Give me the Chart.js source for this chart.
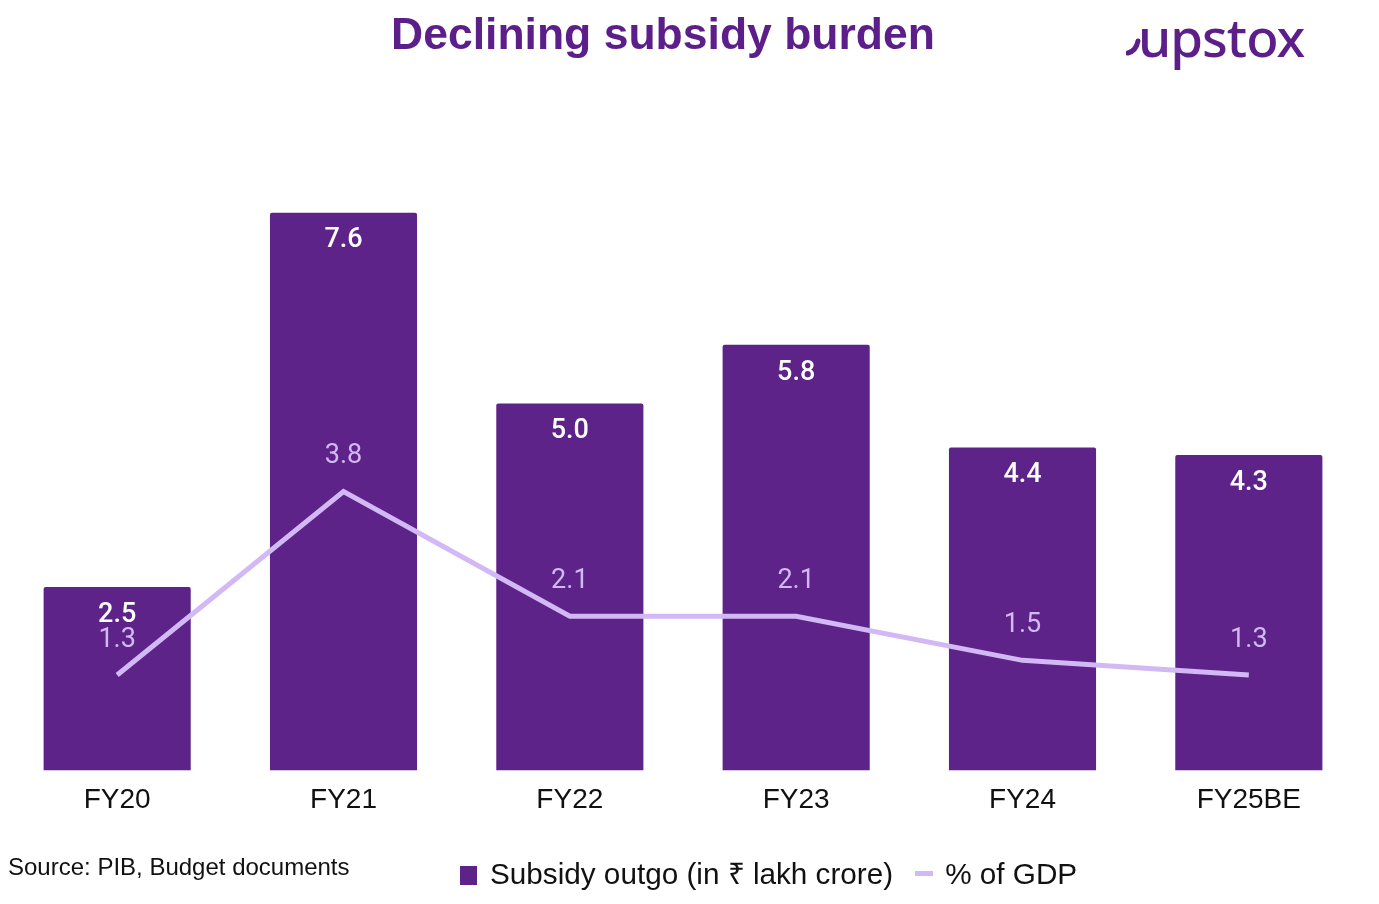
<!DOCTYPE html>
<html>
<head>
<meta charset="utf-8">
<script src="https://cdn.jsdelivr.net/npm/chart.js@4"></script>
<style>
  body { margin: 0; background: #fff; width: 1379px; height: 904px; position: relative; overflow: hidden; }
  #title { position: absolute; top: 9px; left: 363px; width: 600px; text-align: center; font: bold 44.5px "Liberation Sans", Arial, sans-serif; color: #5c1f8a; }
  #logo { position: absolute; top: 0px; left: 1126px; font: 500 53px "Noto Sans", sans-serif; color: #5c1f8a; letter-spacing: -1px; }
  #logo svg { vertical-align: baseline; margin-right: -4px; }
  #wrap { position: absolute; left: 0; top: 0; width: 1379px; height: 904px; }
  #source { position: absolute; left: 8px; top: 853px; font: 24px "Liberation Sans", Arial, sans-serif; color: #111; }
  #legend { position: absolute; left: 460px; top: 852px; font: 29.7px "Liberation Sans", Arial, sans-serif; color: #111; }
  #legend span.box { display: inline-block; width: 17px; height: 19px; background: #5e2388; margin-right: 13px; vertical-align: -1px; }
  #legend span.dash { display: inline-block; width: 18px; height: 5px; background: #d2b8f5; margin: 0 12px 0 22px; vertical-align: 8px; }
</style>
</head>
<body>
<div id="wrap"><canvas id="subsidyChart"></canvas></div>
<div id="title">Declining subsidy burden</div>
<div id="logo"><svg width="16" height="20" viewBox="0 0 16 20"><path d="M2 16 Q10 14 12 4" stroke="#5c1f8a" stroke-width="5" fill="none" stroke-linecap="round"/></svg>upstox</div>
<div id="source">Source: PIB, Budget documents</div>
<div id="legend"><span class="box"></span>Subsidy outgo (in ₹ lakh crore)<span class="dash"></span>% of GDP</div>
<script>
  var years = ["FY20", "FY21", "FY22", "FY23", "FY24", "FY25BE"];
  var subsidyOutgo = [2.5, 7.6, 5.0, 5.8, 4.4, 4.3];
  var gdpShare = [1.3, 3.8, 2.1, 2.1, 1.5, 1.3];

  // value labels: bars inside top, line above point
  var valueLabels = {
    id: 'valueLabels',
    afterDatasetsDraw: function(chart) {
      var ctx = chart.ctx;
      ctx.save();
      ctx.textAlign = 'center';
      ctx.textBaseline = 'middle';
      ctx.font = '500 27px Roboto, sans-serif';
      chart.getDatasetMeta(1).data.forEach(function(bar, i) {
        ctx.fillStyle = '#ffffff';
        ctx.fillText(subsidyOutgo[i].toFixed(1), bar.x, bar.y + 28);
      });
      ctx.font = '27px Roboto, sans-serif';
      chart.getDatasetMeta(0).data.forEach(function(pt, i) {
        ctx.fillStyle = '#d2b8f5';
        ctx.fillText(gdpShare[i].toFixed(1), pt.x, pt.y - 35);
      });
      ctx.restore();
    }
  };

  var ctx = document.getElementById('subsidyChart').getContext('2d');
  new Chart(ctx, {
    data: {
      labels: years,
      datasets: [{
        type: 'line',
        label: '% of GDP',
        data: gdpShare,
        borderColor: '#d2b8f5',
        borderWidth: 5,
        pointRadius: 0,
        tension: 0,
        order: 0
      }, {
        type: 'bar',
        label: 'Subsidy outgo (in ₹ lakh crore)',
        data: subsidyOutgo,
        backgroundColor: '#5e2388',
        borderRadius: 2,
        borderSkipped: 'bottom',
        barPercentage: 0.65,
        categoryPercentage: 1,
        order: 1
      }]
    },
    options: {
      responsive: true,
      maintainAspectRatio: false,
      animation: false,
      layout: {
        padding: { top: 110, left: 4, right: 17, bottom: 74 }
      },
      scales: {
        x: {
          grid: { display: false, drawTicks: false },
          border: { display: false },
          ticks: {
            color: '#111',
            padding: 13,
            font: { family: '"Liberation Sans", Arial, sans-serif', size: 28 }
          }
        },
        y: {
          display: false,
          min: 0,
          max: 9
        }
      },
      plugins: {
        legend: { display: false },
        tooltip: { enabled: false }
      }
    },
    plugins: [valueLabels]
  });
</script>
</body>
</html>
